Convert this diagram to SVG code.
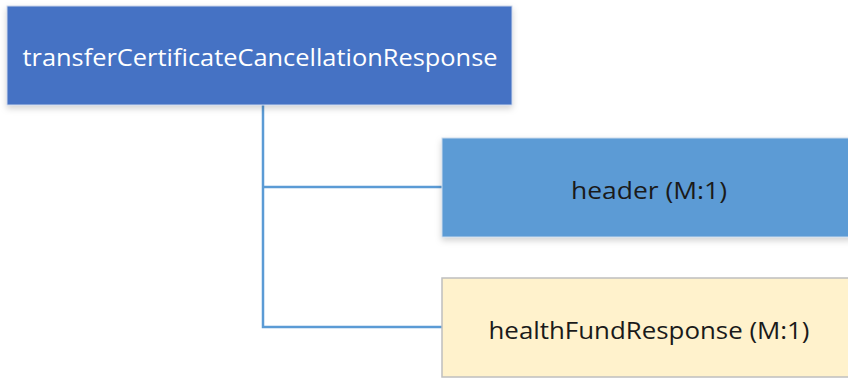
<svg xmlns="http://www.w3.org/2000/svg" width="848" height="379" viewBox="0 0 848 379">
  <defs>
    <filter id="shadow" x="-5%" y="-10%" width="110%" height="130%">
      <feDropShadow dx="0" dy="3" stdDeviation="3" flood-color="#000" flood-opacity="0.18"/>
    </filter>
  </defs>
  <style>
    .lbl { font-family: "Open Sans", "Liberation Sans", sans-serif; font-size: 23.5px; text-anchor: middle; dominant-baseline: central; }
    .conn { fill: none; stroke: #5B9BD5; stroke-width: 2.5; }
  </style>
  <rect width="848" height="379" fill="#FFFFFF"/>

  <g id="connectors">
    <path class="conn" d="M263 105 V327 H443"/>
    <path class="conn" d="M263 187 H443"/>
  </g>

  <g id="root">
    <rect x="7" y="6" width="505" height="99" fill="#4472C4" stroke="#C9D4EA" stroke-width="1" filter="url(#shadow)"/>
    <text class="lbl" x="260" y="57" fill="#FFFFFF" textLength="475" lengthAdjust="spacingAndGlyphs">transferCertificateCancellationResponse</text>
  </g>

  <g id="header">
    <rect x="442" y="138" width="410" height="99" fill="#5B9BD5" stroke="#C9D9EC" stroke-width="1" filter="url(#shadow)"/>
    <text class="lbl" x="649" y="190" fill="#1A1A1A" textLength="156" lengthAdjust="spacingAndGlyphs">header (M:1)</text>
  </g>

  <g id="healthFundResponse">
    <rect x="442" y="278" width="410" height="99" fill="#FFF2CC" stroke="#BFBFBF" stroke-width="1.5"/>
    <text class="lbl" x="649" y="330" fill="#1A1A1A" textLength="321" lengthAdjust="spacingAndGlyphs">healthFundResponse (M:1)</text>
  </g>
</svg>
